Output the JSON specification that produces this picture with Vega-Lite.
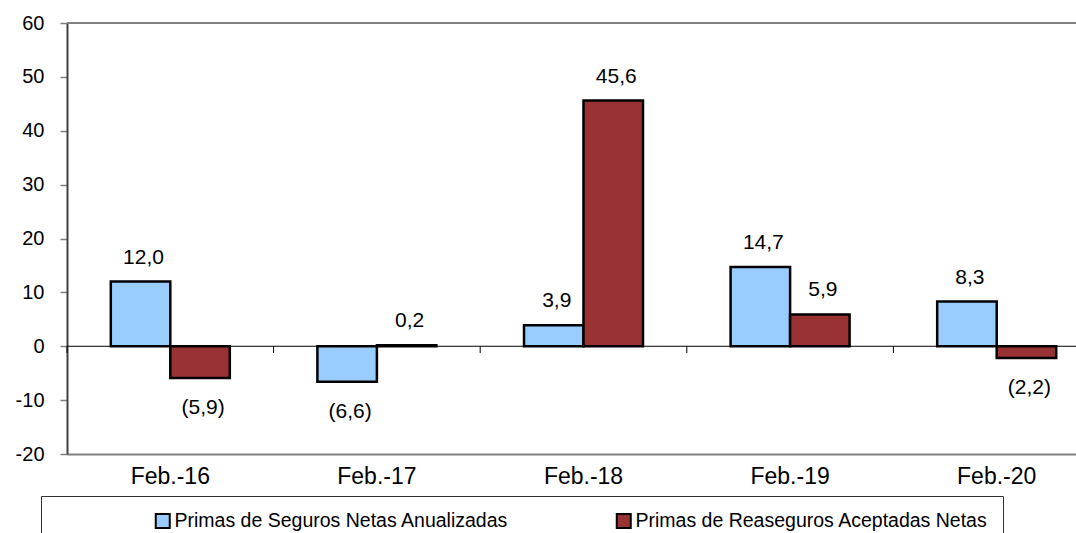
{
  "$schema": "https://vega.github.io/schema/vega-lite/v6.json",
  "width": 1009,
  "height": 431,
  "autosize": {"type": "none"},
  "padding": {"left": 67, "top": 23, "right": 0, "bottom": 79},
  "background": "white",
  "config": {
    "font": "Liberation Sans",
    "view": {"stroke": null},
    "locale": {
      "number": {"decimal": ",", "thousands": ".", "grouping": [3], "currency": ["", ""], "minus": "-"}
    }
  },
  "data": {
    "values": [
      {"cat": "Feb.-16", "serie": "Primas de Seguros Netas Anualizadas", "valor": 12.0},
      {"cat": "Feb.-16", "serie": "Primas de Reaseguros Aceptadas Netas", "valor": -5.9},
      {"cat": "Feb.-17", "serie": "Primas de Seguros Netas Anualizadas", "valor": -6.6},
      {"cat": "Feb.-17", "serie": "Primas de Reaseguros Aceptadas Netas", "valor": 0.2},
      {"cat": "Feb.-18", "serie": "Primas de Seguros Netas Anualizadas", "valor": 3.9},
      {"cat": "Feb.-18", "serie": "Primas de Reaseguros Aceptadas Netas", "valor": 45.6},
      {"cat": "Feb.-19", "serie": "Primas de Seguros Netas Anualizadas", "valor": 14.7},
      {"cat": "Feb.-19", "serie": "Primas de Reaseguros Aceptadas Netas", "valor": 5.9},
      {"cat": "Feb.-20", "serie": "Primas de Seguros Netas Anualizadas", "valor": 8.3},
      {"cat": "Feb.-20", "serie": "Primas de Reaseguros Aceptadas Netas", "valor": -2.2}
    ]
  },
  "layer": [
    {
      "data": {"values": [{}]},
      "mark": {"type": "rule", "color": "#808080", "strokeWidth": 2},
      "encoding": {"y": {"datum": 60, "type": "quantitative"}}
    },
    {
      "data": {"values": [{}]},
      "mark": {"type": "rule", "color": "black", "strokeWidth": 1},
      "encoding": {"y": {"datum": 0, "type": "quantitative"}}
    },
    {
      "transform": [{"filter": "datum.serie === 'Primas de Seguros Netas Anualizadas'"}],
      "mark": {"type": "rule", "color": "black", "strokeWidth": 1},
      "encoding": {
        "x": {"field": "cat", "type": "nominal", "sort": null, "bandPosition": 0},
        "y": {"datum": 0, "type": "quantitative"},
        "y2": {"datum": -1.25}
      }
    },
    {
      "mark": {"type": "bar", "stroke": "black", "strokeWidth": 2.5},
      "encoding": {
        "x": {
          "field": "cat", "type": "nominal", "sort": null,
          "scale": {"range": [0, 1033], "paddingInner": 0, "paddingOuter": 0},
          "axis": {
            "title": null, "orient": "bottom", "labelAngle": 0, "ticks": false,
            "bandPosition": 0.5, "labelAlign": "center", "labelBaseline": "top",
            "domainColor": "#808080", "domainWidth": 2,
            "labelFontSize": 23, "labelColor": "black", "labelPadding": 11
          }
        },
        "xOffset": {
          "field": "serie", "type": "nominal",
          "sort": ["Primas de Seguros Netas Anualizadas", "Primas de Reaseguros Aceptadas Netas"],
          "scale": {"paddingInner": 0, "paddingOuter": 0.736}
        },
        "y": {
          "field": "valor", "type": "quantitative",
          "scale": {"domain": [-20, 60], "nice": false, "zero": false},
          "axis": {
            "title": null, "values": [-20, -10, 0, 10, 20, 30, 40, 50, 60], "format": "d",
            "grid": false, "domainColor": "#404040", "domainWidth": 2,
            "tickColor": "#808080", "tickSize": 7, "tickWidth": 1.5,
            "labelFontSize": 20, "labelColor": "black", "labelPadding": 16
          }
        },
        "color": {
          "field": "serie", "type": "nominal",
          "sort": ["Primas de Seguros Netas Anualizadas", "Primas de Reaseguros Aceptadas Netas"],
          "scale": {"range": ["#99CCFF", "#993333"]},
          "legend": {
            "orient": "none", "legendX": -26, "legendY": 473, "direction": "horizontal",
            "title": null, "symbolType": "square", "symbolSize": 196,
            "symbolStrokeColor": "black", "symbolStrokeWidth": 2,
            "labelFontSize": 19.5, "labelColor": "black", "labelLimit": 800,
            "labelOffset": 2, "symbolOffset": 97, "columnPadding": 8,
            "padding": 15, "strokeColor": "#333333", "fillColor": "white"
          }
        }
      }
    },
    {
      "transform": [{"filter": "datum.valor >= 0"}],
      "mark": {"type": "text", "baseline": "middle", "align": "center", "dy": -24, "dx": 3, "fontSize": 21, "color": "black"},
      "encoding": {
        "x": {"field": "cat", "type": "nominal", "sort": null},
        "xOffset": {"field": "serie", "type": "nominal", "sort": ["Primas de Seguros Netas Anualizadas", "Primas de Reaseguros Aceptadas Netas"]},
        "y": {"field": "valor", "type": "quantitative"},
        "text": {"field": "valor", "type": "quantitative", "format": "(.1f"}
      }
    },
    {
      "transform": [{"filter": "datum.valor < 0"}],
      "mark": {"type": "text", "baseline": "middle", "align": "center", "dy": 30, "dx": 3, "fontSize": 21, "color": "black"},
      "encoding": {
        "x": {"field": "cat", "type": "nominal", "sort": null},
        "xOffset": {"field": "serie", "type": "nominal", "sort": ["Primas de Seguros Netas Anualizadas", "Primas de Reaseguros Aceptadas Netas"]},
        "y": {"field": "valor", "type": "quantitative"},
        "text": {"field": "valor", "type": "quantitative", "format": "(.1f"}
      }
    }
  ]
}
